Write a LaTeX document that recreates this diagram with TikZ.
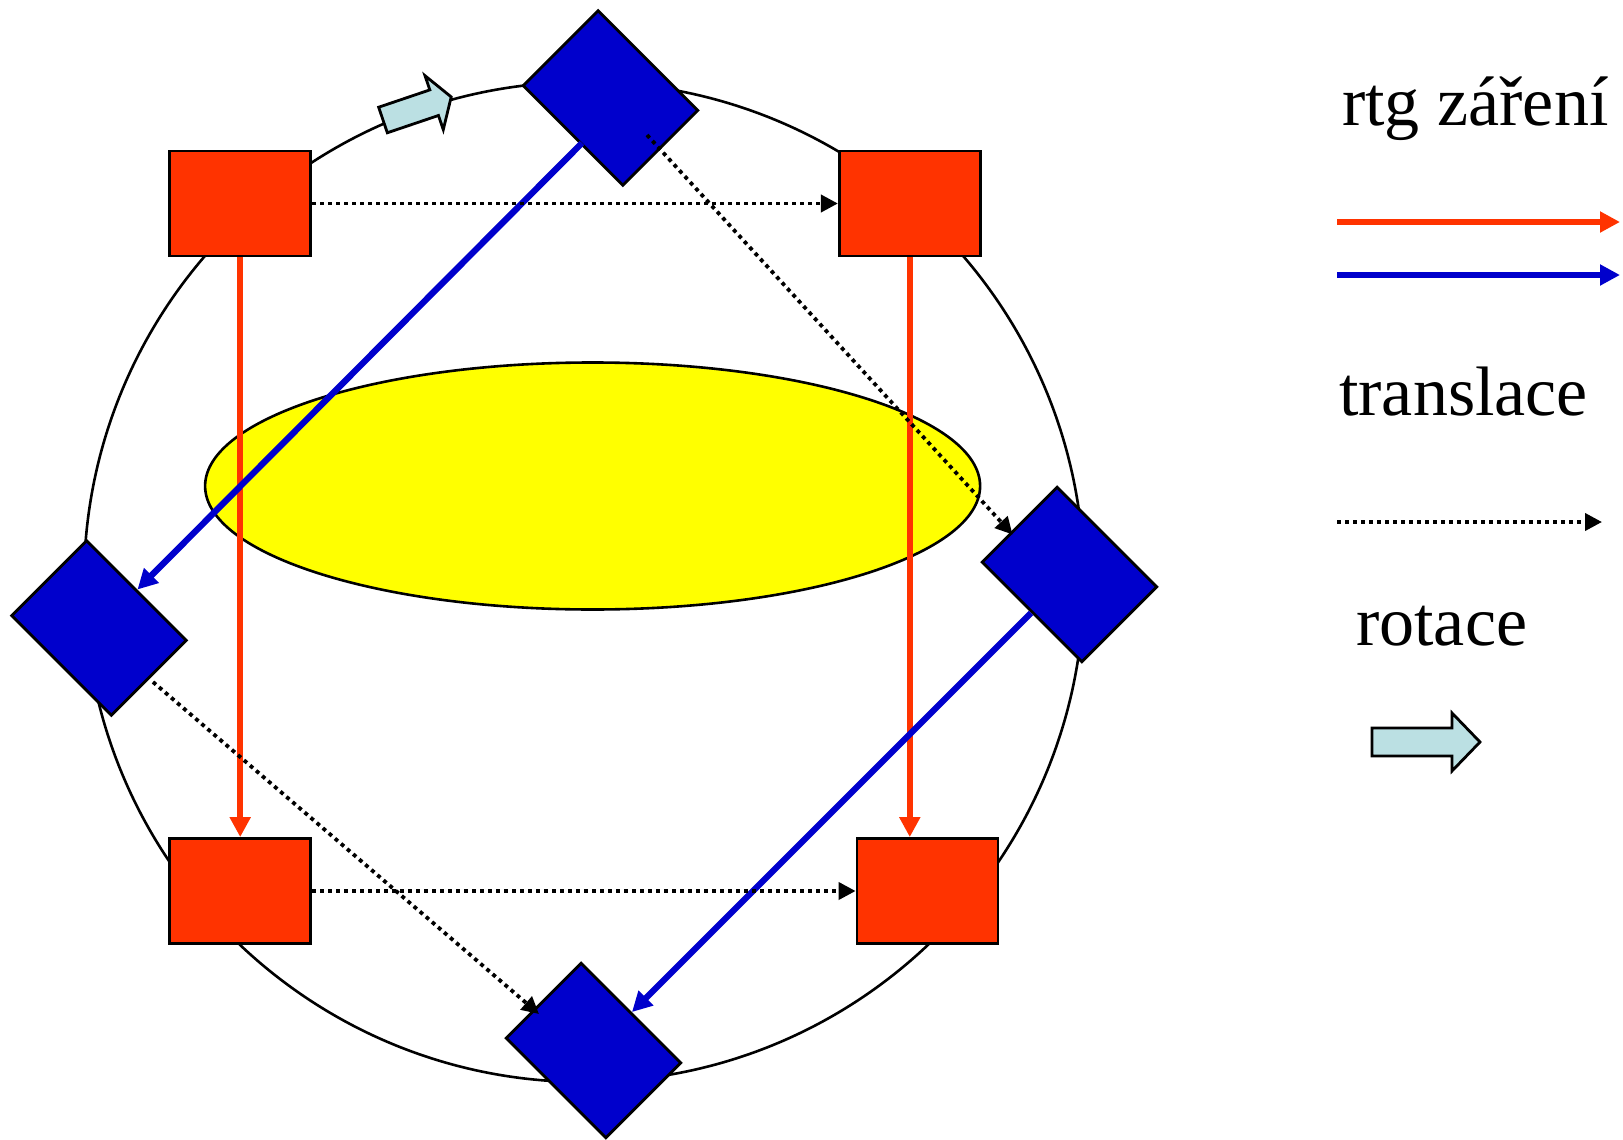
\documentclass[tikz,border=0pt]{standalone}
\usepackage{fontspec}
\setmainfont{Liberation Serif}
\usetikzlibrary{shapes.geometric,arrows.meta,calc}
\definecolor{rtgred}{HTML}{FF3300}
\definecolor{rtgblue}{HTML}{0000CC}
\definecolor{rotfill}{HTML}{BBE0E3}
\definecolor{objyellow}{HTML}{FFFF00}
\tikzset{
  redbox/.style={rectangle, draw=black, line width=2.8pt, fill=rtgred, minimum width=141pt, minimum height=105pt, inner sep=0pt},
  bluebox/.style={rectangle, draw=black, line width=2.8pt, fill=rtgblue, minimum width=141pt, minimum height=106pt, inner sep=0pt, rotate=-45},
  redray/.style={draw=rtgred, line width=6.3pt, -{Triangle[length=20pt,width=20pt]}},
  blueray/.style={draw=rtgblue, line width=6.3pt, -{Triangle[length=20pt,width=20pt]}},
  transl/.style={draw=black, line width=3.8pt, dash pattern=on 3.9pt off 4.1pt, -{Triangle[length=17pt,width=17pt]}},
  rotarrow/.style={draw=black, line width=2.8pt, fill=rotfill, line join=miter},
  legendtext/.style={anchor=base west, inner sep=0pt, font=\fontsize{70}{84}\selectfont}
}
\begin{document}
\begin{tikzpicture}[x=1pt,y=1pt]
\useasboundingbox (0,0) rectangle (1623,-1140);
% ring and object
\node[circle, draw=black, line width=2.6pt, minimum size=1000pt, inner sep=0pt] (ring) at (584,-582) {};
\node[ellipse, draw=black, line width=2.6pt, fill=objyellow, minimum width=775pt, minimum height=247pt, inner sep=0pt] (obj) at (592.6,-486) {};
% red sources
\node[redbox] (tl) at (240.2,-203.5) {};
\node[redbox] (tr) at (909.8,-203.5) {};
\node[redbox] (bl) at (240.2,-891) {};
\node[redbox] (br) at (927.5,-891) {};
% blue sources
\node[bluebox] (dt) at (610.5,-98) {};
\node[bluebox] (dl) at (99,-628) {};
\node[bluebox] (dr) at (1069.5,-574.5) {};
\node[bluebox] (db) at (593.5,-1050.5) {};
% red rays
\draw[redray] (tl.south) -- (bl.north);
\draw[redray] (tr.south) -- (tr.south |- br.north);
% blue rays
\coordinate (b1s) at ($(dt.center)+(-28.5,-45)$);
\draw[blueray] (b1s) -- (dl.north);
\draw[blueray] (dr.south) -- (db.north);
% translations
\draw[transl] (tl.east) -- (tr.west);
\draw[transl] (bl.east) -- (br.west);
\coordinate (t3s) at ($(dt.center)+(36.5,-37)$);
\coordinate (t3e) at ($(dr.center)+(-57,40)$);
\draw[transl] (t3s) -- (t3e);
\coordinate (t4s) at ($(dl.center)+(54,-54)$);
\coordinate (t4e) at ($(db.center)+(-54.5,36.5)$);
\draw[transl] (t4s) -- (t4e);
% rotation arrow on ring
\begin{scope}[shift={(383,-120)}, rotate=18.7]
\draw[rotarrow] (0,13.5) -- (54,13.5) -- (54,28.5) -- (72,0) -- (54,-28.5) -- (54,-13.5) -- (0,-13.5) -- cycle;
\end{scope}
% legend
\node[legendtext] (lrtg) at (1342,-125) {rtg záření};
\coordinate (lr1) at (1337,-222); \coordinate (lr2) at (1620,-222);
\draw[redray] (lr1) -- (lr2);
\coordinate (lb1) at (1337,-275); \coordinate (lb2) at (1620,-275);
\draw[blueray] (lb1) -- (lb2);
\node[legendtext] (ltr) at (1339,-415) {translace};
\coordinate (lt1) at (1337,-522); \coordinate (lt2) at (1602,-522);
\draw[transl] (lt1) -- (lt2);
\node[legendtext] (lrot) at (1356,-645) {rotace};
\draw[rotarrow] (1372,-728) -- (1452,-728) -- (1452,-713) -- (1480,-742) -- (1452,-771) -- (1452,-756) -- (1372,-756) -- cycle;
\end{tikzpicture}
\end{document}
